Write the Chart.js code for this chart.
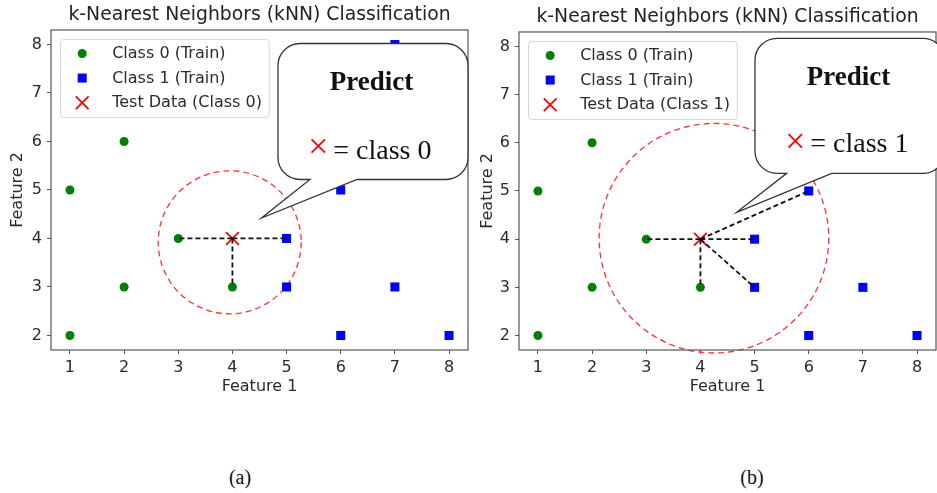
<!DOCTYPE html>
<html>
<head>
<meta charset="utf-8">
<script src="https://cdn.jsdelivr.net/npm/chart.js"></script>
<style>
  body { margin: 0; background: #fff; width: 937px; height: 493px; position: relative; overflow: hidden; }
  .panel { position: absolute; top: 0; height: 400px; }
  .caption { position: absolute; top: 467px; line-height: 20px; font-family: "Liberation Serif", serif; font-size: 20px; color: #111; transform: translateX(-50%); }
</style>
</head>
<body>
<div class="panel" style="left:0;width:470px"><canvas id="chartA" width="470" height="400"></canvas></div>
<div class="panel" style="left:470px;width:467px"><canvas id="chartB" width="467" height="400"></canvas></div>
<div class="caption" style="left:240px">(a)</div>
<div class="caption" style="left:752px">(b)</div>

<script>
const xTicks = [1, 2, 3, 4, 5, 6, 7, 8];
const yTicks = [2, 3, 4, 5, 6, 7, 8];
const class0X = [1, 1, 2, 2, 3, 4];
const class0Y = [2, 5, 3, 6, 4, 3];
const class1X = [5, 5, 6, 6, 7, 7, 8];
const class1Y = [3, 4, 2, 5, 3, 8, 2];
const testX = [4];
const testY = [4];
// neighbours joined to the test point in each panel
const neighborsAX = [3, 5, 4];
const neighborsAY = [4, 4, 3];
const neighborsBX = [3, 5, 4, 5, 6];
const neighborsBY = [4, 4, 3, 3, 5];
const classNames = ['Class 0 (Train)', 'Class 1 (Train)'];
const testLabels = ['Test Data (Class 0)', 'Test Data (Class 1)'];
const predictText = ['= class 0', '= class 1'];
const titleText = 'k-Nearest Neighbors (kNN) Classification';

Chart.defaults.font.family = 'DejaVu Sans';

const TEXT = '#2b2b2b';
const AXIS = '#555';
const FONT_SIZE = 16;

function toPoints(xs, ys) {
    return xs.map((x, i) => ({ x: x, y: ys[i] }));
}

function drawMarker(ctx, style, x, y, r, color) {
    ctx.save();
    ctx.fillStyle = color;
    ctx.strokeStyle = color;
    ctx.beginPath();
    if (style === 'circle') {
        ctx.arc(x, y, r, 0, Math.PI * 2);
        ctx.fill();
    } else if (style === 'rect') {
        const s = Math.SQRT1_2 * r;
        ctx.rect(x - s, y - s, 2 * s, 2 * s);
        ctx.fill();
    } else {
        const s = Math.SQRT1_2 * r;
        ctx.lineWidth = 1.8;
        ctx.moveTo(x - s, y - s); ctx.lineTo(x + s, y + s);
        ctx.moveTo(x - s, y + s); ctx.lineTo(x + s, y - s);
        ctx.stroke();
    }
    ctx.restore();
}

// dashed neighbourhood circle, centre in data units, radius in x units
const circlePlugin = {
    id: 'knnCircle',
    beforeDatasetsDraw(chart, args, opts) {
        const { x, y } = chart.scales;
        const cx = x.getPixelForValue(opts.cx);
        const cy = y.getPixelForValue(opts.cy);
        const r = x.getPixelForValue(opts.cx + opts.r) - cx;
        const ctx = chart.ctx;
        ctx.save();
        ctx.strokeStyle = '#ff3333';
        ctx.lineWidth = 1.3;
        ctx.setLineDash([6, 4]);
        ctx.beginPath();
        ctx.arc(cx, cy, r, 0, Math.PI * 2);
        ctx.stroke();
        ctx.restore();
    }
};

// full box round the axes, like matplotlib spines
const framePlugin = {
    id: 'frame',
    afterDatasetsDraw(chart) {
        const a = chart.chartArea;
        const ctx = chart.ctx;
        ctx.save();
        ctx.strokeStyle = AXIS;
        ctx.lineWidth = 1.2;
        ctx.strokeRect(a.left, a.top, a.right - a.left, a.bottom - a.top);
        ctx.restore();
    }
};

const legendPlugin = {
    id: 'innerLegend',
    afterDatasetsDraw(chart) {
        const ctx = chart.ctx;
        const a = chart.chartArea;
        const items = chart.data.datasets.filter(d => d.label);
        ctx.save();
        ctx.font = FONT_SIZE + 'px "DejaVu Sans"';
        const textW = Math.max(...items.map(d => ctx.measureText(d.label).width));
        const x0 = a.left + 9.5, y0 = a.top + 9.5;
        const w = 52 + textW + 7, h = 78;
        ctx.beginPath();
        ctx.roundRect(x0, y0, w, h, 3);
        ctx.fillStyle = 'rgba(255,255,255,0.85)';
        ctx.fill();
        ctx.strokeStyle = '#d6d6d6';
        ctx.lineWidth = 1;
        ctx.stroke();
        items.forEach((d, i) => {
            const cy = y0 + 14 + i * 24.6;
            const color = d.pointStyle === 'crossRot' ? d.borderColor : d.backgroundColor;
            drawMarker(ctx, d.pointStyle, x0 + 21.7, cy, d.pointRadius, color);
            ctx.fillStyle = TEXT;
            ctx.textBaseline = 'middle';
            ctx.fillText(d.label, x0 + 51.7, cy + 0.5);
        });
        ctx.restore();
    }
};

// speech bubble with the prediction
const bubblePlugin = {
    id: 'bubble',
    afterDraw(chart, args, o) {
        const ctx = chart.ctx;
        const b = o.box;
        const r = 22;
        const bottom = b.y + b.h;
        ctx.save();
        ctx.beginPath();
        ctx.moveTo(b.x + r, b.y);
        ctx.arcTo(b.x + b.w, b.y, b.x + b.w, bottom, r);
        ctx.arcTo(b.x + b.w, bottom, b.x, bottom, r);
        ctx.lineTo(b.x + o.base[1], bottom);
        ctx.lineTo(b.x + o.tip[0], b.y + o.tip[1]);
        ctx.lineTo(b.x + o.base[0], bottom);
        ctx.arcTo(b.x, bottom, b.x, b.y, r);
        ctx.arcTo(b.x, b.y, b.x + b.w, b.y, r);
        ctx.closePath();
        ctx.fillStyle = '#fff';
        ctx.fill();
        ctx.strokeStyle = '#333';
        ctx.lineWidth = 1.3;
        ctx.stroke();

        ctx.fillStyle = '#111';
        ctx.textBaseline = 'alphabetic';
        ctx.textAlign = 'center';
        ctx.font = 'bold 27px "Liberation Serif"';
        ctx.fillText('Predict', b.x + 93.5, b.y + 46.5);
        ctx.textAlign = 'left';
        ctx.font = '28px "Liberation Serif"';
        ctx.fillText(o.text, b.x + 55.3, b.y + o.textDy);
        drawMarker(ctx, 'crossRot', b.x + 40.3, b.y + 102.5, 9.5, '#ff0000');
        ctx.restore();
    }
};

function makeChart(id, p) {
    const datasets = [];
    p.nX.forEach((x, i) => {
        datasets.push({
            type: 'line',
            data: [{ x: testX[0], y: testY[0] }, { x: x, y: p.nY[i] }],
            borderColor: '#111',
            borderWidth: 1.8,
            borderDash: [5, 3],
            pointRadius: 0,
            order: -1
        });
    });
    datasets.push({
        label: classNames[0],
        data: toPoints(class0X, class0Y),
        pointStyle: 'circle',
        pointRadius: 4.5,
        backgroundColor: '#008000',
        borderWidth: 0
    });
    datasets.push({
        label: classNames[1],
        data: toPoints(class1X, class1Y),
        pointStyle: 'rect',
        pointRadius: 6.4,
        backgroundColor: '#0000ff',
        borderWidth: 0
    });
    datasets.push({
        label: p.testLabel,
        data: toPoints(testX, testY),
        pointStyle: 'crossRot',
        pointRadius: 9,
        borderColor: '#ff0000',
        backgroundColor: '#ff0000',
        borderWidth: 1.8
    });

    const tickFont = { family: 'DejaVu Sans', size: FONT_SIZE };
    const H = 400;

    return new Chart(document.getElementById(id), {
        type: 'scatter',
        data: { datasets: datasets },
        options: {
            responsive: false,
            animation: false,
            events: [],
            layout: { autoPadding: false, padding: { left: 0, right: p.width - p.right, top: 0, bottom: 0 } },
            scales: {
                x: {
                    type: 'linear',
                    min: 0.65,
                    max: 8.35,
                    afterBuildTicks: s => { s.ticks = xTicks.map(v => ({ value: v })); },
                    afterFit: s => { s.height = H - p.bottom; s.paddingLeft = 0; s.paddingRight = 0; },
                    grid: { display: true, drawOnChartArea: false, drawTicks: true, tickLength: 4, color: AXIS, lineWidth: 1 },
                    border: { display: false },
                    ticks: { font: tickFont, color: TEXT, padding: 4, maxRotation: 0 },
                    title: { display: true, text: 'Feature 1', font: tickFont, color: TEXT, padding: { top: 0, bottom: 3.4 } }
                },
                y: {
                    type: 'linear',
                    min: 1.7,
                    max: 8.3,
                    afterBuildTicks: s => { s.ticks = yTicks.map(v => ({ value: v })); },
                    afterFit: s => { s.width = p.left; s.paddingTop = 0; s.paddingBottom = 0; },
                    grid: { display: true, drawOnChartArea: false, drawTicks: true, tickLength: 4, color: AXIS, lineWidth: 1 },
                    border: { display: false },
                    ticks: { font: tickFont, color: TEXT, padding: 5 },
                    title: { display: true, text: 'Feature 2', font: tickFont, color: TEXT, padding: { top: 8.4, bottom: 0 } }
                }
            },
            plugins: {
                legend: { display: false },
                tooltip: { enabled: false },
                title: {
                    display: true,
                    text: titleText,
                    fullSize: false,
                    color: '#222',
                    font: { family: 'DejaVu Sans', size: 18.8, weight: 'normal', lineHeight: 1.2 },
                    padding: { top: p.top - 26.6, bottom: 4 }
                },
                knnCircle: p.circle,
                bubble: p.bubble
            }
        },
        plugins: [circlePlugin, framePlugin, legendPlugin, bubblePlugin]
    });
}

makeChart('chartA', {
    width: 470, left: 51, right: 468, top: 30, bottom: 350,
    nX: neighborsAX, nY: neighborsAY,
    testLabel: testLabels[0],
    circle: { cx: 3.95, cy: 3.92, r: 1.32 },
    bubble: { box: { x: 278, y: 43.5, w: 190, h: 136 }, tip: [-16.5, 174.5], base: [32, 79], text: predictText[0], textDy: 115 }
});

makeChart('chartB', {
    width: 467, left: 49, right: 466, top: 32, bottom: 350,
    nX: neighborsBX, nY: neighborsBY,
    testLabel: testLabels[1],
    circle: { cx: 4.25, cy: 4.02, r: 2.12 },
    bubble: { box: { x: 285, y: 38.3, w: 190, h: 135 }, tip: [-18.3, 174], base: [31.7, 76.7], text: predictText[1], textDy: 113.7 }
});
</script>
</body>
</html>
